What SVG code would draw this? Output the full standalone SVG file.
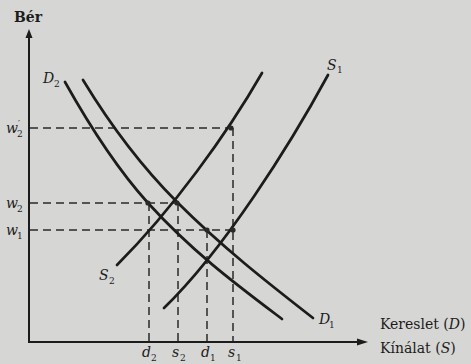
<svg xmlns="http://www.w3.org/2000/svg" width="471" height="364" viewBox="0 0 471 364">
<style>
.curve{fill:none;stroke:#1c1c1c;stroke-width:2.7;stroke-linecap:round}
.axis{fill:none;stroke:#1c1c1c;stroke-width:2}
.dash{fill:none;stroke:#2a2a2a;stroke-width:1.5;stroke-dasharray:8 5}
.dot{fill:#2a2a2a}
.lab{font-family:"DejaVu Serif","Liberation Serif",serif;font-style:italic;fill:#1c1c1c;font-size:14px}
.sub{font-family:"DejaVu Serif","Liberation Serif",serif;fill:#1c1c1c;font-size:9px;font-style:normal}
.txt{font-family:"DejaVu Serif","Liberation Serif",serif;fill:#1c1c1c;font-size:14px}
</style>
<rect x="0" y="0" width="471" height="364" fill="#d6d6d4"/>
<g id="axes">
<line class="axis" x1="29" y1="36" x2="29" y2="342"/>
<polygon points="29,29 25.5,38 32.5,38" fill="#1c1c1c"/>
<line class="axis" x1="28" y1="342" x2="358" y2="342"/>
<polygon points="368,342 357,338.5 357,345.5" fill="#1c1c1c"/>
</g>
<g id="guides">
<line class="dash" x1="30" y1="128" x2="230" y2="128"/>
<line class="dash" x1="30" y1="203" x2="177" y2="203"/>
<line class="dash" x1="30" y1="230" x2="233" y2="230"/>
<line class="dash" x1="149" y1="203" x2="149" y2="341"/>
<line class="dash" x1="178" y1="203" x2="178" y2="341"/>
<line class="dash" x1="207" y1="230" x2="207" y2="341"/>
<line class="dash" x1="233" y1="128" x2="233" y2="341"/>
</g>
<g id="curves">
<path id="D2" class="curve" d="M65,82 C93,132 120,172 148,203 C193,252.5 237,285 282,319"/>
<path id="D1" class="curve" d="M83,80 C114,131 146,171 177,202 C222,247 268,283 313,318"/>
<path id="S2" class="curve" d="M117,265 C172,210 227,134 262,73"/>
<path id="S1" class="curve" d="M164,308 C224,250 290,145 328,75"/>
</g>
<g id="dots">
<circle class="dot" cx="148" cy="203" r="2.6"/>
<circle class="dot" cx="177" cy="203" r="2.6"/>
<circle class="dot" cx="207" cy="230" r="2.6"/>
<circle class="dot" cx="233" cy="230" r="2.6"/>
<circle class="dot" cx="231" cy="128" r="2.6"/>
</g>
<g id="labels">
<text x="14" y="22" class="txt" font-weight="bold">Bér</text>
<text x="43" y="83" class="lab">D</text><text x="54" y="87" class="sub">2</text>
<text x="327" y="70" class="lab">S</text><text x="337" y="73" class="sub">1</text>
<text x="99" y="280" class="lab">S</text><text x="109" y="284" class="sub">2</text>
<text x="319" y="324" class="lab">D</text><text x="329" y="328" class="sub">1</text>
<text x="6" y="133" class="lab">w<tspan class="sub" dy="-6">′</tspan><tspan class="sub" dx="-3" dy="10">2</tspan></text>
<text x="6" y="208" class="lab">w</text><text x="17" y="212" class="sub">2</text>
<text x="6" y="235" class="lab">w</text><text x="17" y="239" class="sub">1</text>
<text x="142" y="357" class="lab">d</text><text x="151" y="361" class="sub">2</text>
<text x="172" y="357" class="lab">s</text><text x="180" y="361" class="sub">2</text>
<text x="201" y="357" class="lab">d</text><text x="210" y="361" class="sub">1</text>
<text x="228" y="357" class="lab">s</text><text x="236" y="361" class="sub">1</text>
<text x="380" y="329" class="txt">Kereslet (<tspan font-style="italic">D</tspan>)</text>
<text x="380" y="353" class="txt">Kínálat (<tspan font-style="italic">S</tspan>)</text>
</g>
</svg>
